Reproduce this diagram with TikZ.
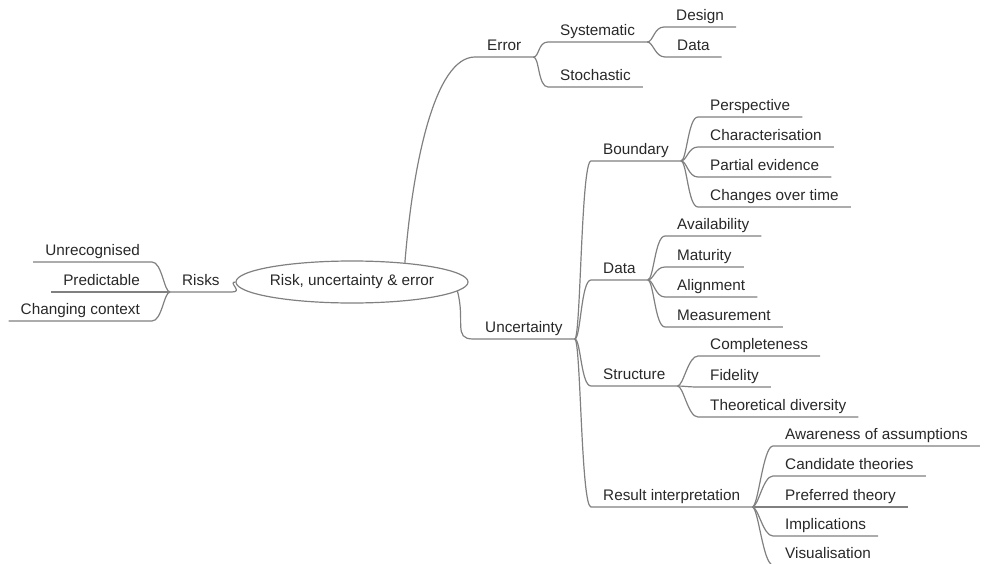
\documentclass[tikz,border=0pt]{standalone}
\usepackage{fontspec}
\setmainfont{Liberation Sans}
\usetikzlibrary{shapes.geometric}
\definecolor{linegray}{RGB}{128,128,128}
\definecolor{textgray}{RGB}{40,40,40}
\tikzset{
  topic/.style={anchor=south west, inner xsep=12pt, inner ysep=3pt, text height=11pt, text depth=3pt, text=textgray, font=\fontsize{15.3}{18}\selectfont},
  lefttopic/.style={topic, anchor=south east},
  branch/.style={draw=linegray, line width=1.2pt},
}
\begin{document}
\begin{tikzpicture}[x=1pt,y=-1pt]
\useasboundingbox (0,0) rectangle (990,564);
% centre
\node[draw=linegray, line width=1.2pt, ellipse, minimum width=194pt, minimum height=42pt, inner sep=0pt, text=textgray, font=\fontsize{15.3}{18}\selectfont] (root) at (352,282) {Risk, uncertainty \& error};
% risks
\node[topic] (risks) at (170,292) {Risks};
\node[lefttopic] (unrec) at (152,262) {Unrecognised};
\node[lefttopic] (pred) at (152,292) {Predictable};
\node[lefttopic] (chctx) at (152,321) {Changing context};
% error
\node[topic] (err) at (475,57) {Error};
\node[topic] (sys) at (548,42) {Systematic};
\node[topic] (des) at (664,27) {Design};
\node[topic] (edat) at (665,57) {Data};
\node[topic] (sto) at (548,87) {Stochastic};
% uncertainty
\node[topic] (unc) at (473,339) {Uncertainty};
\node[topic] (bou) at (591,161) {Boundary};
\node[topic] (per) at (698,117) {Perspective};
\node[topic] (cha) at (698,147) {Characterisation};
\node[topic] (par) at (698,177) {Partial evidence};
\node[topic] (chg) at (698,207) {Changes over time};
\node[topic] (udat) at (591,280) {Data};
\node[topic] (ava) at (665,236) {Availability};
\node[topic] (mat) at (665,267) {Maturity};
\node[topic] (ali) at (665,297) {Alignment};
\node[topic] (mea) at (665,327) {Measurement};
\node[topic] (stru) at (591,386) {Structure};
\node[topic] (com) at (698,356) {Completeness};
\node[topic] (fid) at (698,387) {Fidelity};
\node[topic] (the) at (698,417) {Theoretical diversity};
\node[topic] (res) at (591,507) {Result interpretation};
\node[topic] (awa) at (773,446) {Awareness of assumptions};
\node[topic] (can) at (773,476) {Candidate theories};
\node[topic] (pre) at (773,507) {Preferred theory};
\node[topic] (imp) at (773,536) {Implications};
\node[topic] (vis) at (773,565) {Visualisation};
% branches
\draw[branch] (root.west) .. controls +(-8,0) and +(12,0) .. (risks.south east) -- (risks.south west);
\foreach \c in {unrec,pred,chctx}
  \draw[branch] (risks.south west) .. controls +(-6,0) and +(10,0) .. (\c.south east) -- (\c.south west);
\draw[branch] (root.20) .. controls +(8,-100) and +(-40,0) .. (err.south west) -- (err.south east);
\draw[branch] (root.-5) .. controls +(8,30) and +(-20,0) .. (unc.south west) -- (unc.south east);
\foreach \p/\c in {err/sys,sys/des,sys/edat,err/sto,
    unc/bou,bou/per,bou/cha,bou/par,bou/chg,
    unc/udat,udat/ava,udat/mat,udat/ali,udat/mea,
    unc/stru,stru/com,stru/fid,stru/the,
    unc/res,res/awa,res/can,res/pre,res/imp,res/vis}
  \draw[branch] (\p.south east) .. controls +(6,0) and +(-10,0) .. (\c.south west) -- (\c.south east);
\end{tikzpicture}
\end{document}
